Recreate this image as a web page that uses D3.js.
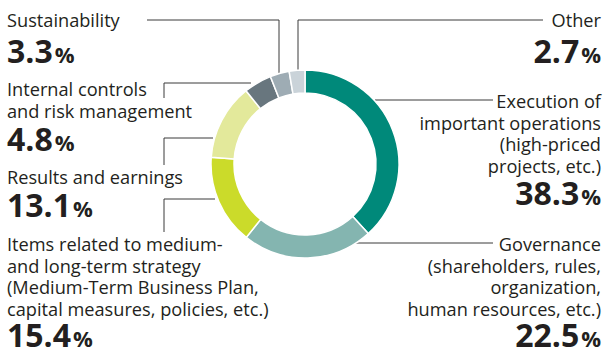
<!DOCTYPE html>
<html><head><meta charset="utf-8">
<script src="https://cdn.jsdelivr.net/npm/d3@7"></script>
<style>
body{margin:0;background:#fff;}
svg{display:block;font-family:"Open Sans",sans-serif;}
</style></head>
<body><svg id="c" width="606" height="354"></svg>
<script>
const categories = [
  "Execution of important operations (high-priced projects, etc.)",
  "Governance (shareholders, rules, organization, human resources, etc.)",
  "Items related to medium- and long-term strategy (Medium-Term Business Plan, capital measures, policies, etc.)",
  "Results and earnings",
  "Internal controls and risk management",
  "Sustainability",
  "Other"
];
const values = [38.3, 22.5, 15.4, 13.1, 4.8, 3.3, 2.7];
const valueLabels = ["38.3", "22.5", "15.4", "13.1", "4.8", "3.3", "2.7"];
const labelLines = [
  ["Execution of", "important operations", "(high-priced", "projects, etc.)"],
  ["Governance", "(shareholders, rules,", "organization,", "human resources, etc.)"],
  ["Items related to medium-", "and long-term strategy", "(Medium-Term Business Plan,", "capital measures, policies, etc.)"],
  ["Results and earnings"],
  ["Internal controls", "and risk management"],
  ["Sustainability"],
  ["Other"]
];
const colors = ["#00897a", "#84b5b0", "#cbdb2a", "#e3e99b", "#68767e", "#9eacb4", "#cad3d9"];

// layout (positions, not data)
const layout = [
  {anchor:"end", x:601, y:108, pctY:205, leader:[[375,100],[493,100]]},
  {anchor:"end", x:601, y:251, pctY:347, leader:[[356,243],[493,243]]},
  {anchor:"start", x:7, y:251, pctY:347, leader:[[215,199],[164,199],[164,232]]},
  {anchor:"start", x:7, y:184, pctY:217, leader:[[213,138],[164,138],[164,165]]},
  {anchor:"start", x:7, y:96, pctY:151, leader:[[251,83],[164,83],[164,98]]},
  {anchor:"start", x:7, y:27, pctY:63, leader:[[279,75],[279,20],[147,20]]},
  {anchor:"end", x:601, y:27, pctY:63, leader:[[298,72],[298,20],[543,20]]}
];
const lineH = 21.5;

const svg = d3.select("#c");
const cx = 305, cy = 164, rOuter = 94, rInner = 71;

const pie = d3.pie().sort(null).value(d => d).startAngle(0).endAngle(2*Math.PI);
const arc = d3.arc().innerRadius(rInner).outerRadius(rOuter);
const arcs = pie(values);

// leaders
const line = d3.line();
svg.append("g").selectAll("path").data(layout).join("path")
  .attr("d", d => line(d.leader))
  .attr("fill","none").attr("stroke","#3a3a3a").attr("stroke-width",1);

svg.append("g").attr("transform",`translate(${cx},${cy})`)
  .selectAll("path").data(arcs).join("path")
  .attr("d", arc)
  .attr("fill", (d,i) => colors[i])
  .attr("stroke","#fff").attr("stroke-width",1.5);

const tg = svg.append("g").attr("fill","#231f20");
layout.forEach((L,i) => {
  const t = tg.append("text").attr("text-anchor",L.anchor).attr("font-size",18.2);
  labelLines[i].forEach((s,j) => {
    t.append("tspan").attr("x",L.x).attr("y",L.y + j*lineH).text(s);
  });
  const p = tg.append("text").attr("text-anchor",L.anchor).attr("x",L.x).attr("y",L.pctY)
    .attr("font-weight",700);
  p.append("tspan").attr("font-size",32).text(valueLabels[i]);
  p.append("tspan").attr("font-size",22).attr("dx",2).text("%");
});
</script></body></html>
